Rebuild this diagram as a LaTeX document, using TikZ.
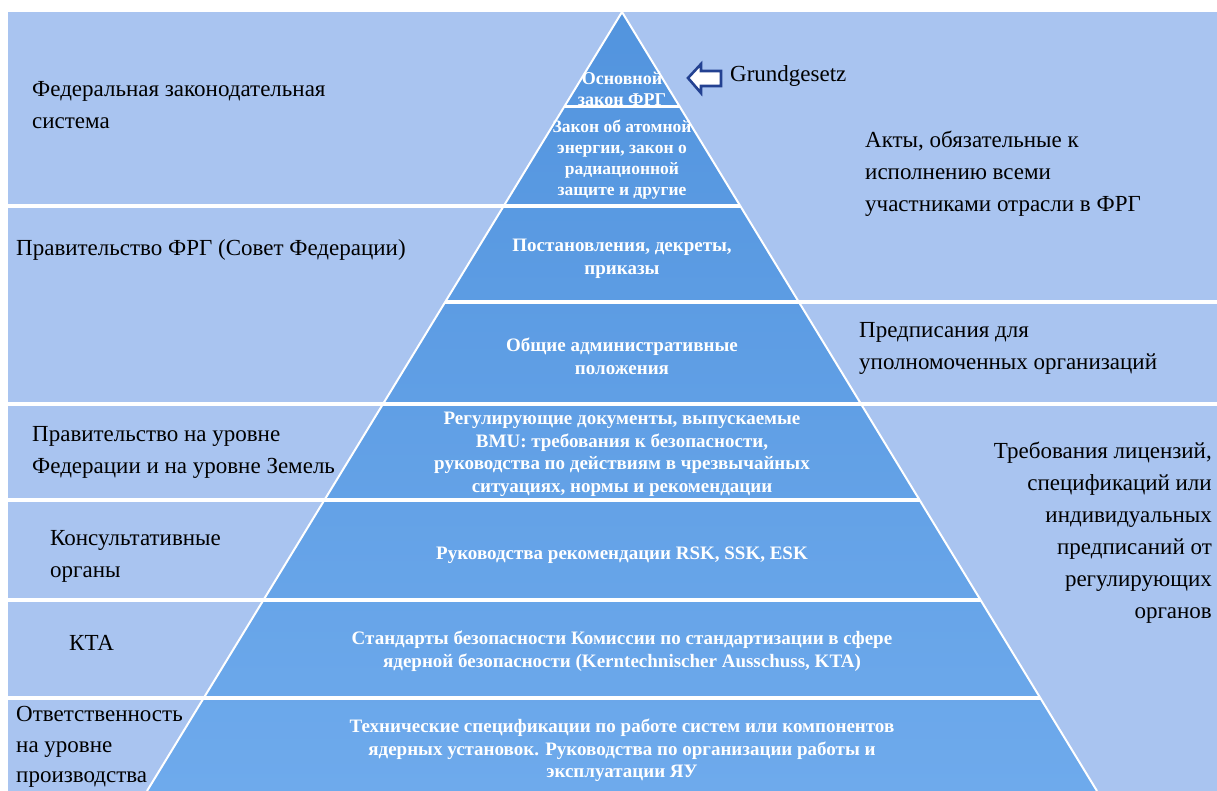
\documentclass[tikz,border=0pt]{standalone}
\usepackage{fontspec}
\setmainfont{Liberation Serif}
\usetikzlibrary{calc}
\definecolor{bgblue}{RGB}{169,196,240}
\definecolor{pyrtop}{RGB}{82,148,222}
\definecolor{pyrbot}{RGB}{110,170,236}
\definecolor{arrowblue}{RGB}{35,65,145}
\tikzset{
  sepline/.style={white, line width=3.5pt},
  lab/.style={font=\fontsize{23}{32}\selectfont, align=left, text=black, inner sep=0pt},
  ptxt/.style={font=\bfseries\fontsize{19}{22.5}\selectfont, text=white, align=center, inner sep=0pt},
}
\begin{document}
\begin{tikzpicture}[x=1pt,y=-1pt]
\useasboundingbox (0,0) rectangle (1217,791);
\fill[white] (0,0) rectangle (1217,791);
\fill[bgblue] (8,12) rectangle (1217,791);
% pyramid
\coordinate (A) at (622,12);
\coordinate (BL) at (147,791);
\coordinate (BR) at (1097,791);
\shade[top color=pyrtop, bottom color=pyrbot] (A) -- (BL) -- (BR) -- cycle;
% separators
\draw[sepline, line width=3pt] (564.1,107) -- (679.9,107);
\draw[sepline] (8,206) -- (740.3,206);
\draw[sepline] (445.2,302) -- (1217,302);
\draw[sepline] (8,404) -- (1217,404);
\draw[sepline] (8,500) -- (919.6,500);
\draw[sepline] (8,600) -- (980.6,600);
\draw[sepline] (8,698) -- (1040.3,698);
\draw[white, line width=2pt] (BL) -- (A) -- (BR);
% arrow
\draw[arrowblue, fill=white, line width=2.6pt, line join=miter]
  (688,78) -- (701,64) -- (701,71) -- (721,71) -- (721,86) -- (701,86) -- (701,93) -- cycle;
\node[lab, anchor=base west] (gg) at (730,82) {Grundgesetz};
% pyramid texts
\node[ptxt, font=\bfseries\fontsize{18}{20.5}\selectfont] (p1) at (622,89) {Основной\\закон ФРГ};
\node[ptxt, font=\bfseries\fontsize{17.5}{21}\selectfont] (p2) at (622,160) {Закон об атомной\\энергии, закон о\\радиационной\\защите и другие};
\node[ptxt] (p3) at (622,259) {Постановления, декреты,\\приказы};
\node[ptxt] (p4) at (622,356.5) {Общие административные\\положения};
\node[ptxt] (p5) at (622,454.5) {Регулирующие документы, выпускаемые\\BMU: требования к безопасности,\\руководства по действиям в чрезвычайных\\ситуациях, нормы и рекомендации};
\node[ptxt] (p6) at (622,555) {Руководства рекомендации RSK, SSK, ESK};
\node[ptxt] (p7) at (622,651) {Стандарты безопасности Комиссии по стандартизации в сфере\\ядерной безопасности (Kerntechnischer Ausschuss, KTA)};
\node[ptxt] (p8) at (622,750.5) {Технические спецификации по работе систем или компонентов\\ядерных установок. Руководства по организации работы и\\эксплуатации ЯУ};
% left labels
\node[lab, anchor=west] (l1) at (32,105) {Федеральная законодательная\\система};
\node[lab, anchor=west] (l2) at (16,250) {Правительство ФРГ (Совет Федерации)};
\node[lab, anchor=west] (l3) at (32,452) {Правительство на уровне\\Федерации и на уровне Земель};
\node[lab, anchor=west] (l4) at (50,556) {Консультативные\\органы};
\node[lab, anchor=west] (l5) at (69,643) {КТА};
\node[lab, anchor=west, font=\fontsize{23}{30.5}\selectfont] (l6) at (16,747) {Ответственность\\на уровне\\производства};
% right labels
\node[lab, anchor=west] (r1) at (865,174) {Акты, обязательные к\\исполнению всеми\\участниками отрасли в ФРГ};
\node[lab, anchor=west] (r2) at (859,348) {Предписания для\\уполномоченных организаций};
\node[lab, anchor=east, align=right, font=\fontsize{23}{32}\selectfont] (r3) at (1212,533) {Требования лицензий,\\спецификаций или\\индивидуальных\\предписаний от\\регулирующих\\органов};
\end{tikzpicture}
\end{document}
